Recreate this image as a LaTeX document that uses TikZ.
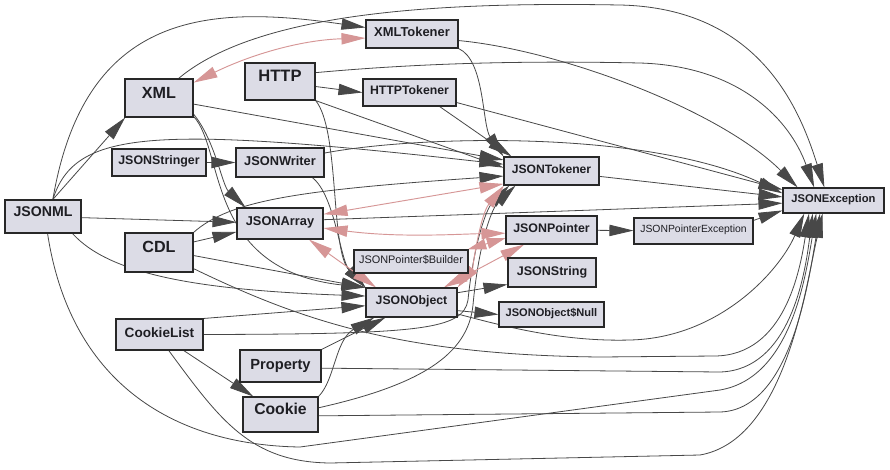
\documentclass[tikz,border=0pt]{standalone}
\usepackage{fontspec}
\setmainfont{Liberation Sans}
\usepackage{xcolor}
\usepackage{tikz}
\usetikzlibrary{arrows.meta}
\definecolor{boxfill}{RGB}{220,220,230}
\definecolor{boxline}{RGB}{40,40,40}
\definecolor{edgegray}{RGB}{72,72,72}
\definecolor{mutualpink}{RGB}{214,150,150}
\definecolor{labeltext}{RGB}{30,30,35}
\pgfdeclarelayer{edges}
\pgfsetlayers{edges,main}

\begin{document}
\begin{tikzpicture}[
  x=0.75pt, y=-0.75pt,
  >={Triangle[length=18pt,width=8.5pt]},
  box/.style={draw=boxline,fill=boxfill,line width=0.8pt,inner sep=0pt,text=labeltext,text depth=3pt,font=\bfseries\fontsize{#1}{#1}\selectfont},
  big/.style={box=#1,text depth=8pt},
  nested/.style={box=#1,font=\mdseries\fontsize{#1}{#1}\selectfont},
  arrow/.style={->,draw=edgegray,line width=0.6pt},
  mutual/.style={<->,draw=mutualpink,line width=0.7pt}
]
\useasboundingbox (0,0) rectangle (890,469);

% Classes, placed at the pixel positions of the layout (y grows downwards).
\node[box=9.7, minimum width=69pt, minimum height=21pt] (xmltok) at (412,34) {XMLTokener};
\node[big=12.1, minimum width=51pt, minimum height=28.5pt] (xml) at (159,98) {XML};
\node[big=12.4, minimum width=52.5pt, minimum height=27.75pt] (http) at (280,81.5) {HTTP};
\node[box=9.2, minimum width=69.75pt, minimum height=20.25pt] (httptok) at (409.5,92.5) {HTTPTokener};
\node[box=9.3, minimum width=70.5pt, minimum height=20.25pt] (stringer) at (159,162.5) {JSONStringer};
\node[box=9.6, minimum width=66pt, minimum height=21.75pt] (writer) at (280,162.5) {JSONWriter};
\node[box=9.1, minimum width=71.25pt, minimum height=21pt] (tokener) at (551.5,171) {JSONTokener};
\node[box=8.4, minimum width=75.75pt, minimum height=18.75pt] (except) at (833.5,200.5) {JSONException};
\node[big=10.6, minimum width=57pt, minimum height=24.75pt] (jsonml) at (43,216.5) {JSONML};
\node[box=9.6, minimum width=64.5pt, minimum height=23.25pt] (array) at (280,223.5) {JSONArray};
\node[box=9.3, minimum width=68.25pt, minimum height=21pt] (pointer) at (551.5,230) {JSONPointer};
\node[nested=7.8, minimum width=89.25pt, minimum height=19.5pt] (ptrexc) at (693.5,231) {JSONPointerException};
\node[big=12.1, minimum width=51pt, minimum height=29.25pt] (cdl) at (159,252.5) {CDL};
\node[nested=8.2, minimum width=85.5pt, minimum height=17.25pt] (builder) at (411,261.5) {JSONPointer\$Builder};
\node[box=9.4, minimum width=66pt, minimum height=21.75pt] (string) at (552,272.5) {JSONString};
\node[box=9.2, minimum width=68.25pt, minimum height=21.75pt] (object) at (411.5,302.5) {JSONObject};
\node[box=8.3, minimum width=78.75pt, minimum height=18.75pt] (onull) at (551.5,314.5) {JSONObject\$Null};
\node[box=10.2, minimum width=65.25pt, minimum height=23.25pt] (cklist) at (159.5,334.5) {CookieList};
\node[box=11, minimum width=60.75pt, minimum height=24pt] (property) at (280.5,366) {Property};
\node[big=11.8, minimum width=56.25pt, minimum height=26.25pt] (cookie) at (280.5,414.5) {Cookie};

\begin{pgfonlayer}{edges}
\fill[white] (0,0) rectangle (890,469);

% Plain dependencies.
\draw[arrow] (jsonml.60) .. controls (85,10) and (210,5) .. (xmltok.172);
\draw[arrow] (jsonml.60) -- (xml.-150);
\draw[arrow] (jsonml.60) .. controls (75,130) and (150,125) .. (tokener.172);
\draw[arrow] (jsonml) -- (array);
\draw[arrow] (jsonml.-30) .. controls (110,275) and (200,290) .. (object.172);
\draw[arrow] (jsonml.-75) .. controls (70,380) and (170,445) .. (300,447) -- (720,390) .. controls (790,378) and (805,280) .. (except.-143);

\draw[arrow] (xml.-25) .. controls (215,140) and (222,185) .. (array.155);
\draw[arrow] (xml.-28) .. controls (225,150) and (205,270) .. (object.162);
\draw[arrow] (xml.-10) -- (tokener.167);
\draw[arrow] (xml.45) .. controls (260,10) and (450,2) .. (620,5) .. controls (760,8) and (800,110) .. (except.125);

\draw[arrow] (http.-8) -- (httptok.west);
\draw[arrow] (http.14) .. controls (400,65) and (500,60) .. (640,63) .. controls (740,66) and (790,120) .. (except.146);
\draw[arrow] (http.south east) -- (tokener.176);
\draw[arrow] (http.-28) .. controls (340,130) and (330,250) .. (object.162);

\draw[arrow] (xmltok.south east) .. controls (485,60) and (482,125) .. (tokener.north west);
\draw[arrow] (xmltok.-8) .. controls (560,50) and (720,110) .. (except.160);
\draw[arrow] (httptok.-25) -- (tokener.160);
\draw[arrow] (httptok.-12) -- (except.168);

\draw[arrow] (stringer) -- (writer);
\draw[arrow] (writer.-25) .. controls (335,195) and (340,260) .. (object.162);
\draw[arrow] (writer.12) .. controls (420,135) and (650,130) .. (except.172);
\draw[arrow] (tokener) -- (except.176);

\draw[arrow] (cdl.north east) .. controls (230,200) and (300,190) .. (tokener.186);
\draw[arrow] (cdl.17) -- (array.191);
\draw[arrow] (cdl.-5) -- (object.162);
\draw[arrow] (cdl.-25) .. controls (300,320) and (400,355) .. (600,357) -- (715,356) .. controls (785,355) and (800,270) .. (except.-152);

\draw[arrow] (array.5) -- (except.183);
\draw[arrow] (pointer) -- (ptrexc);
\draw[arrow] (ptrexc.10) -- (except.191);

\draw[arrow] (object.12) -- (string.195);
\draw[arrow] (object.-10) -- (onull.west);
\draw[arrow] (object.-14) .. controls (500,325) and (560,342) .. (630,340) .. controls (720,338) and (780,270) .. (except.-156);

\draw[arrow] (cklist) -- (cookie);
\draw[arrow] (cklist.north east) -- (object.184);
\draw[arrow] (cklist.east) .. controls (420,334) and (463,330) .. (468,300) .. controls (473,250) and (485,210) .. (tokener.-161);
\draw[arrow] (cklist.-60) .. controls (220,420) and (250,462) .. (330,463) -- (700,455) .. controls (785,440) and (805,290) .. (except.-130);

\draw[arrow] (property.north east) -- (object.-150);
\draw[arrow] (property.-3) -- (720,372) .. controls (790,370) and (805,275) .. (except.-148);

\draw[arrow] (cookie.north east) .. controls (335,380) and (335,340) .. (object.-158);
\draw[arrow] (cookie.10) .. controls (420,385) and (468,355) .. (473,305) .. controls (478,250) and (490,210) .. (tokener.-158);
\draw[arrow] (cookie.-2) -- (720,412) .. controls (790,410) and (808,285) .. (except.-136);

% Mutual dependencies, arrow tips at both ends.
\draw[mutual] (xml.24) .. controls (250,55) and (300,40) .. (xmltok.185);
\draw[mutual] (array.12) -- (tokener.195);
\draw[mutual] (array.-6) .. controls (400,238) and (460,234) .. (pointer.184);
\draw[mutual] (array.-29) -- (object.157);
\draw[mutual] (object.north east) .. controls (472,270) and (480,215) .. (tokener.-163);
\draw[mutual] (object.25) -- (pointer.-152);
\draw[>={Triangle[length=14pt,width=8pt]}, mutual] (builder.12) -- (pointer.190);
\end{pgfonlayer}

\end{tikzpicture}
\end{document}
